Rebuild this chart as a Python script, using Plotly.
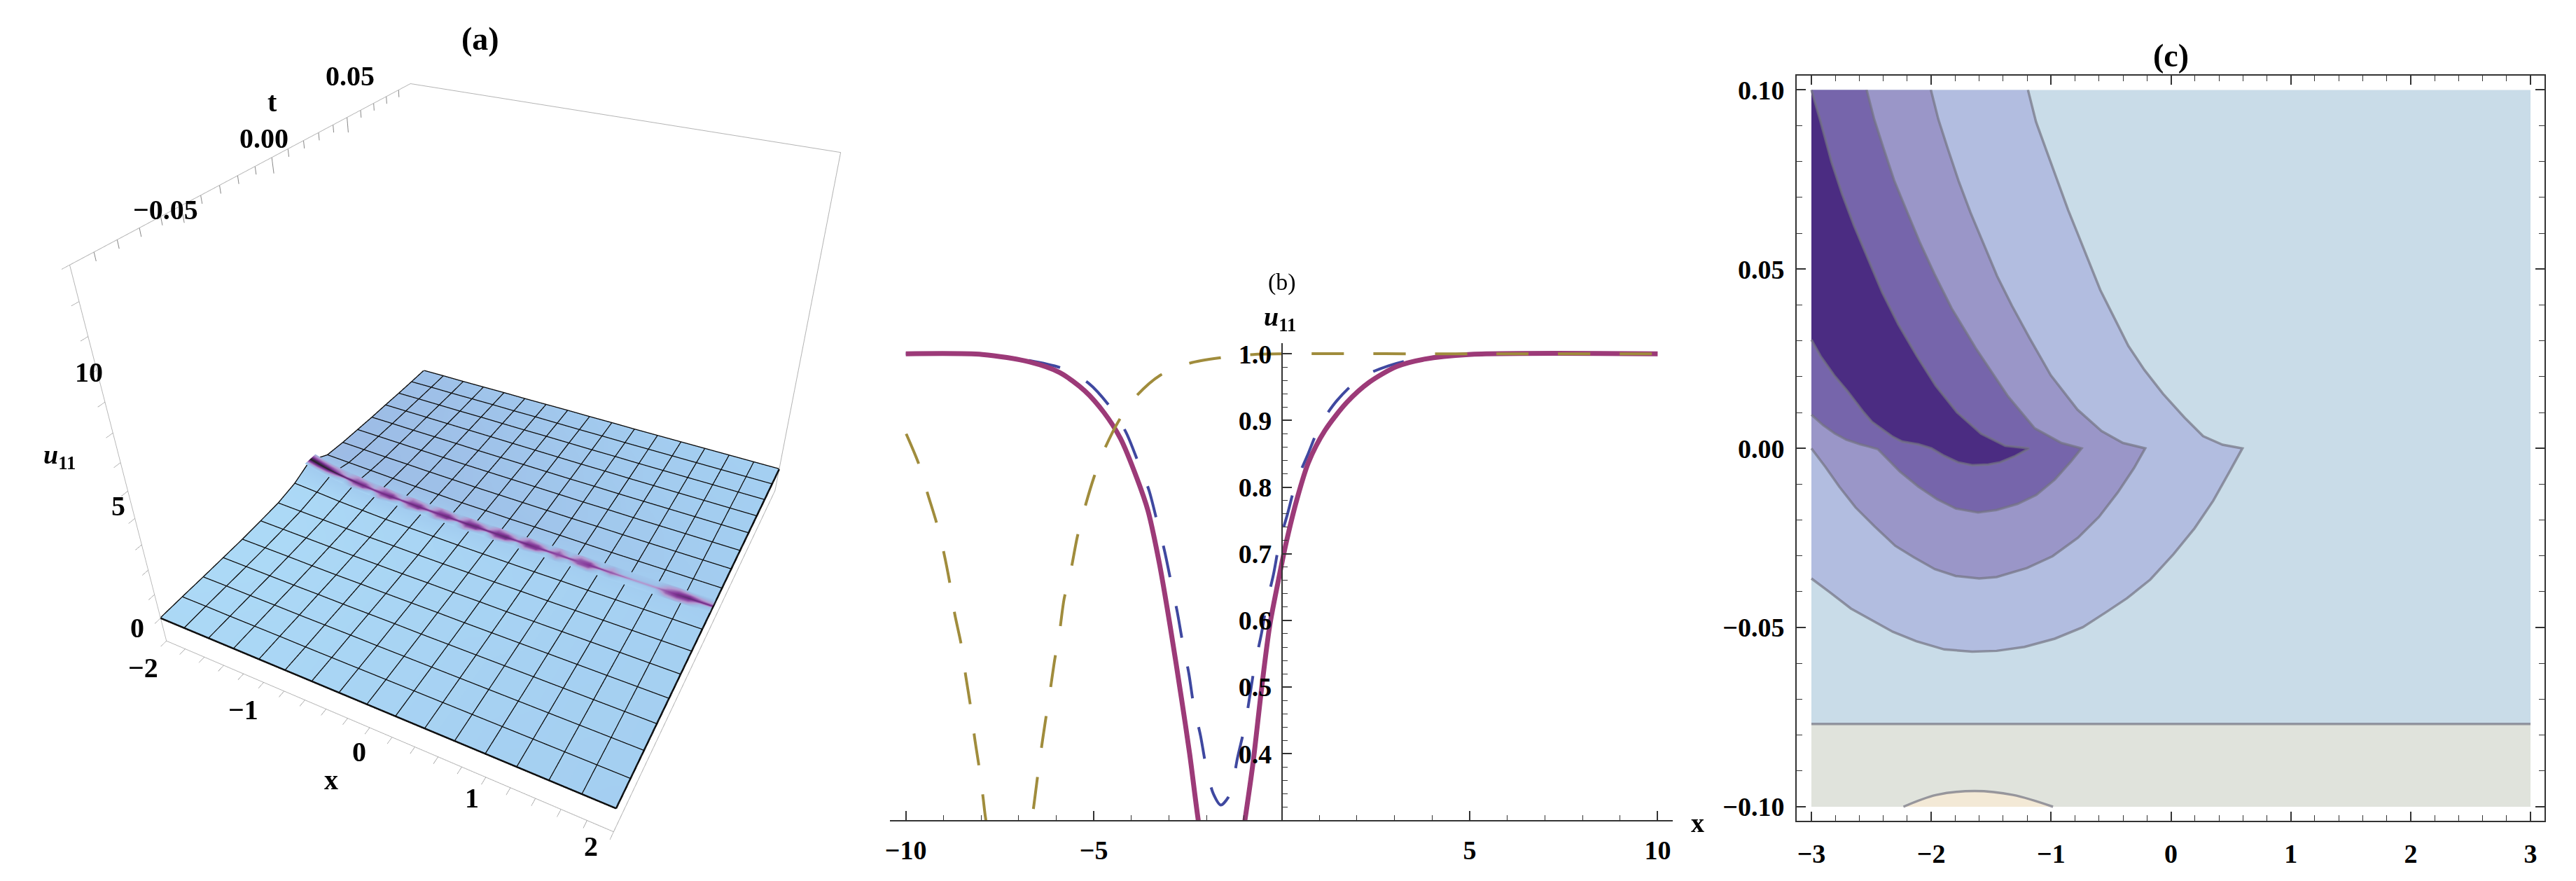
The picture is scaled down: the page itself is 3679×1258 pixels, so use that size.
import plotly.graph_objects as go

W, H = 3679, 1258
SERIF = "Liberation Serif"

# panel (a): surface u11(x, t), one row per mesh line
surf_x = [-2, -1.75, -1.5, -1.25, -1, -0.75, -0.5, -0.25, 0, 0.25, 0.5, 0.75, 1, 1.25, 1.5, 1.75, 2]
surf_t = [-0.1, -0.0875, -0.075, -0.0625, -0.05, -0.0375, -0.025, -0.0125, 0, 0.0125, 0.025, 0.0375, 0.05, 0.0625, 0.075, 0.0875, 0.1]
surf_u = [
    [1.00, 1.00, 1.00, 1.00, 1.00, 1.00, 1.00, 1.00, 1.00, 1.00, 1.00, 1.00, 1.00, 1.00, 1.00, 1.00, 1.00],
    [1.02, 1.02, 1.01, 1.01, 1.01, 1.00, 1.00, 1.00, 1.00, 1.00, 1.00, 1.00, 1.00, 1.00, 1.00, 1.00, 1.00],
    [1.03, 1.03, 1.02, 1.02, 1.01, 1.01, 1.01, 1.00, 1.00, 1.00, 1.00, 1.00, 1.00, 1.00, 1.00, 1.00, 1.00],
    [1.05, 1.04, 1.03, 1.02, 1.02, 1.01, 1.01, 1.01, 1.00, 1.00, 1.00, 1.00, 1.00, 1.00, 1.00, 1.00, 1.00],
    [1.07, 1.06, 1.05, 1.03, 1.02, 1.02, 1.01, 1.01, 1.01, 1.00, 1.00, 1.00, 1.00, 1.00, 1.00, 1.00, 1.00],
    [1.12, 1.10, 1.08, 1.06, 1.04, 1.03, 1.02, 1.02, 1.01, 1.01, 1.00, 1.00, 1.00, 1.00, 1.00, 1.00, 1.00],
    [1.18, 1.15, 1.12, 1.09, 1.06, 1.05, 1.03, 1.02, 1.02, 1.01, 1.01, 1.00, 1.00, 1.00, 1.00, 1.00, 1.00],
    [1.35, 1.28, 1.20, 1.15, 1.10, 1.08, 1.06, 1.04, 1.03, 1.02, 1.01, 1.01, 1.00, 1.00, 1.00, 1.00, 1.00],
    [1.70, 1.45, 1.30, 1.20, 1.15, 1.10, 1.08, 1.06, 1.04, 1.03, 1.02, 1.01, 1.01, 1.00, 1.00, 1.00, 1.00],
    [1.28, 1.24, 1.20, 1.16, 1.12, 1.09, 1.06, 1.05, 1.03, 1.03, 1.02, 1.01, 1.00, 1.00, 1.00, 1.00, 1.00],
    [1.20, 1.17, 1.14, 1.12, 1.09, 1.07, 1.05, 1.04, 1.03, 1.02, 1.01, 1.01, 1.00, 1.00, 1.00, 1.00, 1.00],
    [1.16, 1.14, 1.12, 1.10, 1.08, 1.06, 1.05, 1.04, 1.03, 1.02, 1.01, 1.01, 1.00, 1.00, 1.00, 1.00, 1.00],
    [1.12, 1.11, 1.09, 1.08, 1.07, 1.05, 1.04, 1.03, 1.02, 1.01, 1.01, 1.00, 1.00, 1.00, 1.00, 1.00, 1.00],
    [1.10, 1.09, 1.08, 1.07, 1.06, 1.05, 1.04, 1.03, 1.02, 1.01, 1.01, 1.00, 1.00, 1.00, 1.00, 1.00, 1.00],
    [1.07, 1.07, 1.06, 1.05, 1.05, 1.04, 1.03, 1.03, 1.02, 1.01, 1.01, 1.00, 1.00, 1.00, 1.00, 1.00, 1.00],
    [1.05, 1.05, 1.04, 1.04, 1.04, 1.03, 1.03, 1.02, 1.01, 1.01, 1.00, 1.00, 1.00, 1.00, 1.00, 1.00, 1.00],
    [1.04, 1.04, 1.03, 1.03, 1.03, 1.02, 1.02, 1.02, 1.01, 1.01, 1.00, 1.00, 1.00, 1.00, 1.00, 1.00, 1.00],
]
# colour level read from the shading of the surface
surf_shade = [
    [0.02, 0.02, 0.02, 0.03, 0.03, 0.04, 0.05, 0.06, 0.07, 0.08, 0.09, 0.10, 0.11, 0.12, 0.12, 0.13, 0.14],
    [0.01, 0.01, 0.02, 0.03, 0.03, 0.04, 0.05, 0.06, 0.07, 0.08, 0.09, 0.10, 0.11, 0.11, 0.12, 0.13, 0.13],
    [0.00, 0.01, 0.01, 0.02, 0.03, 0.04, 0.05, 0.06, 0.07, 0.08, 0.09, 0.10, 0.10, 0.11, 0.12, 0.12, 0.13],
    [0.00, 0.00, 0.01, 0.02, 0.03, 0.04, 0.05, 0.06, 0.07, 0.08, 0.09, 0.10, 0.10, 0.11, 0.12, 0.12, 0.13],
    [0.00, 0.00, 0.01, 0.02, 0.03, 0.04, 0.05, 0.06, 0.07, 0.08, 0.08, 0.09, 0.10, 0.11, 0.11, 0.12, 0.12],
    [0.00, 0.00, 0.01, 0.02, 0.03, 0.04, 0.05, 0.06, 0.07, 0.08, 0.08, 0.09, 0.10, 0.11, 0.11, 0.12, 0.12],
    [0.00, 0.01, 0.02, 0.03, 0.04, 0.05, 0.05, 0.06, 0.07, 0.08, 0.08, 0.09, 0.10, 0.10, 0.11, 0.11, 0.12],
    [0.02, 0.02, 0.03, 0.04, 0.05, 0.06, 0.06, 0.07, 0.08, 0.08, 0.09, 0.09, 0.10, 0.10, 0.11, 0.11, 0.12],
    [0.20, 0.20, 0.20, 0.20, 0.20, 0.20, 0.20, 0.18, 0.18, 0.18, 0.18, 0.16, 0.16, 0.16, 0.16, 0.15, 0.15],
    [0.36, 0.35, 0.34, 0.33, 0.32, 0.31, 0.30, 0.29, 0.28, 0.27, 0.25, 0.23, 0.21, 0.20, 0.18, 0.17, 0.16],
    [0.36, 0.35, 0.34, 0.33, 0.32, 0.31, 0.29, 0.28, 0.26, 0.25, 0.23, 0.21, 0.20, 0.19, 0.17, 0.16, 0.15],
    [0.35, 0.34, 0.33, 0.32, 0.31, 0.30, 0.28, 0.27, 0.25, 0.24, 0.22, 0.21, 0.19, 0.18, 0.17, 0.15, 0.14],
    [0.35, 0.34, 0.33, 0.31, 0.30, 0.29, 0.27, 0.26, 0.24, 0.23, 0.21, 0.20, 0.18, 0.17, 0.16, 0.15, 0.14],
    [0.34, 0.33, 0.32, 0.30, 0.29, 0.28, 0.26, 0.25, 0.23, 0.22, 0.20, 0.19, 0.17, 0.16, 0.15, 0.14, 0.13],
    [0.33, 0.32, 0.31, 0.29, 0.28, 0.27, 0.25, 0.23, 0.22, 0.21, 0.19, 0.18, 0.17, 0.16, 0.14, 0.14, 0.13],
    [0.32, 0.31, 0.30, 0.28, 0.27, 0.26, 0.24, 0.22, 0.21, 0.20, 0.18, 0.17, 0.16, 0.15, 0.14, 0.13, 0.13],
    [0.30, 0.29, 0.28, 0.26, 0.25, 0.24, 0.22, 0.21, 0.20, 0.19, 0.17, 0.16, 0.15, 0.14, 0.13, 0.13, 0.12],
]
# the jagged purple crease along t = 0, drawn as a narrow strip on the surface
crease_x = [-2.0, -1.9, -1.8, -1.7, -1.6, -1.5, -1.4, -1.3, -1.2, -1.1, -1.0, -0.9, -0.8, -0.7, -0.6, -0.5, -0.4, -0.3, -0.2, -0.1, 0.0,
            0.1, 0.2, 0.3, 0.4, 0.5, 0.6, 0.7, 0.8, 0.9, 1.0, 1.1, 1.2, 1.3, 1.4, 1.5, 1.6, 1.7, 1.8, 1.9, 2.0]
crease_t = [-0.004, -0.0012, 0, 0.0012, 0.004]
crease_u = [1.78, 1.66, 1.57, 1.50, 1.44, 1.39, 1.34, 1.30, 1.27, 1.25, 1.24, 1.22, 1.20, 1.19, 1.18, 1.17, 1.16, 1.15, 1.15, 1.14, 1.14,
            1.13, 1.13, 1.13, 1.12, 1.12, 1.12, 1.11, 1.11, 1.11, 1.11, 1.10, 1.10, 1.10, 1.10, 1.10, 1.10, 1.10, 1.10, 1.10, 1.10]
crease_low = [0.08, 0.06, 0.05, 0.05, 0.05, 0.30, 0.05, 0.05, 0.36, 0.06, 0.06, 0.34, 0.06, 0.06, 0.34, 0.07, 0.07, 0.38, 0.07, 0.07, 0.34,
              0.08, 0.08, 0.32, 0.08, 0.08, 0.30, 0.09, 0.09, 0.26, 0.09, 0.09, 0.10, 0.10, 0.10, 0.10, 0.28, 0.36, 0.30, 0.11, 0.11]
crease_in_low = [0.85, 0.80, 0.75, 0.60, 0.30, 0.68, 0.74, 0.30, 0.70, 0.76, 0.30, 0.68, 0.78, 0.30, 0.70, 0.78, 0.30, 0.76, 0.80, 0.30, 0.78,
                 0.80, 0.30, 0.76, 0.78, 0.30, 0.66, 0.30, 0.72, 0.74, 0.25, 0.50, 0.20, 0.20, 0.20, 0.25, 0.68, 0.80, 0.76, 0.40, 0.30]
crease_mid = [1.00, 1.00, 1.00, 0.98, 0.95, 0.92, 0.88, 0.88, 0.86, 0.88, 0.86, 0.88, 0.88, 0.88, 0.86, 0.88, 0.88, 0.90, 0.88, 0.90, 0.88,
              0.90, 0.86, 0.88, 0.84, 0.86, 0.78, 0.84, 0.74, 0.82, 0.84, 0.74, 0.70, 0.60, 0.58, 0.60, 0.74, 0.86, 0.90, 0.88, 0.88]
crease_in_high = [0.90, 0.90, 0.85, 0.70, 0.45, 0.70, 0.76, 0.45, 0.72, 0.78, 0.40, 0.72, 0.78, 0.42, 0.76, 0.80, 0.45, 0.78, 0.80, 0.50, 0.78,
                  0.80, 0.45, 0.76, 0.78, 0.40, 0.70, 0.40, 0.72, 0.76, 0.35, 0.55, 0.32, 0.30, 0.30, 0.30, 0.60, 0.78, 0.80, 0.60, 0.50]
crease_high = [0.36, 0.36, 0.35, 0.38, 0.34, 0.50, 0.34, 0.36, 0.54, 0.33, 0.32, 0.52, 0.33, 0.32, 0.52, 0.32, 0.31, 0.54, 0.30, 0.30, 0.52,
               0.28, 0.27, 0.50, 0.27, 0.26, 0.44, 0.25, 0.44, 0.25, 0.24, 0.36, 0.22, 0.22, 0.21, 0.20, 0.36, 0.40, 0.19, 0.18, 0.18]
t_ticks = [-0.09, -0.08, -0.07, -0.06, -0.05, -0.04, -0.03, -0.02, -0.01, 0, 0.01, 0.02, 0.03, 0.04, 0.05, 0.06, 0.07, 0.08, 0.09]

# panel (b): the three profiles; values below 0.30 run off the axis
gold_x = [-9.99, -9.65, -9.43, -9.17, -8.99, -8.82, -8.70, -8.52, -8.41, -8.27, -8.17, -8.04, -7.94, -7.88, -7.6, -7.25, -6.9,
          -6.64, -6.52, -6.42, -6.29, -6.17, -6.04, -5.91, -5.79, -5.61, -5.44, -5.25, -5.0, -4.73, -4.33, -3.88, -3.23, -2.45, -1.65, -0.76, 0, 5, 10]
gold_y = [0.88, 0.834, 0.792, 0.744, 0.702, 0.653, 0.61, 0.562, 0.518, 0.468, 0.424, 0.376, 0.332, 0.304, 0.22, 0.2, 0.22,
          0.304, 0.355, 0.398, 0.448, 0.491, 0.541, 0.583, 0.632, 0.675, 0.725, 0.767, 0.814, 0.855, 0.9, 0.936, 0.968, 0.986, 0.994, 0.999, 1, 1, 1]
blue_x = [-10, -7.96, -6.72, -5.83, -5.14, -4.56, -4.14, -3.81, -3.53, -3.31, -3.12, -2.94, -2.78, -2.63, -2.47, -2.34, -2.16, -2.01, -1.82, -1.62,
          -1.43, -1.32, -1.18, -0.98, -0.72, -0.54, -0.40, -0.22, -0.06, 0.15, 0.38, 0.68, 1.03, 1.47, 2.1, 2.84, 3.64, 5.26, 10]
blue_y = [1.0, 0.999, 0.99, 0.978, 0.956, 0.92, 0.882, 0.836, 0.795, 0.747, 0.705, 0.656, 0.613, 0.565, 0.52, 0.472, 0.427, 0.38, 0.34, 0.323,
          0.334, 0.35, 0.393, 0.442, 0.532, 0.58, 0.625, 0.669, 0.717, 0.759, 0.807, 0.847, 0.894, 0.93, 0.964, 0.982, 0.993, 0.999, 1]
magenta_x = [-10, -7.96, -6.72, -5.91, -5.25, -4.73, -4.29, -3.85, -3.56, -3.26, -2.97, -2.67, -2.45, -2.23, -2.0, -1.6, -1.2,
             -0.97, -0.76, -0.54, -0.32, -0.1, 0.12, 0.41, 0.71, 1.15, 1.73, 2.32, 3.06, 3.79, 4.97, 10]
magenta_y = [1, 0.999, 0.988, 0.972, 0.945, 0.912, 0.873, 0.813, 0.765, 0.687, 0.592, 0.484, 0.4, 0.304, 0.22, 0.18, 0.22,
             0.304, 0.388, 0.496, 0.592, 0.657, 0.717, 0.783, 0.837, 0.885, 0.927, 0.957, 0.981, 0.992, 0.999, 1]

# panel (c): contour boundaries, outermost first
band1_x = [-1.193, -1.126, -1.037, -0.948, -0.858, -0.769, -0.680, -0.590, -0.479, -0.356, -0.222, -0.066, 0.113, 0.268, 0.43, 0.596,
           0.489, 0.353, 0.197, 0.022, -0.172, -0.366, -0.541, -0.736, -0.969, -1.222, -1.455, -1.659, -1.892, -2.125, -2.32, -2.514, -2.67, -2.845, -3]
band1_t = [0.1, 0.0911, 0.0829, 0.0747, 0.0665, 0.0591, 0.0517, 0.0442, 0.0368, 0.0286, 0.0219, 0.0152, 0.0086, 0.0034, 0.001, 0,
           -0.0065, -0.0146, -0.0223, -0.0295, -0.0366, -0.0418, -0.0457, -0.0499, -0.0531, -0.0554, -0.0565, -0.0567, -0.0561, -0.0538, -0.0512, -0.0476, -0.0447, -0.0402, -0.0363]
band2_x = [-2.003, -1.941, -1.863, -1.773, -1.673, -1.561, -1.450, -1.327, -1.182, -1.003, -0.780, -0.579, -0.401, -0.215,
           -0.308, -0.444, -0.6, -0.775, -0.988, -1.202, -1.455, -1.6, -1.795, -1.97, -2.145, -2.3, -2.475, -2.631, -2.767, -2.883, -3]
band2_t = [0.1, 0.0918, 0.0837, 0.0747, 0.0658, 0.0569, 0.0480, 0.0398, 0.0309, 0.0204, 0.0108, 0.0048, 0.0015, 0,
           -0.0055, -0.0123, -0.0191, -0.0249, -0.0301, -0.0334, -0.0359, -0.0363, -0.0356, -0.0337, -0.0304, -0.0272, -0.0217, -0.0165, -0.0107, -0.0052, 0]
band3_x = [-2.539, -2.476, -2.398, -2.309, -2.208, -2.097, -1.974, -1.829, -1.628, -1.360, -1.137, -0.914, -0.746,
           -0.833, -0.969, -1.124, -1.28, -1.455, -1.61, -1.795, -1.95, -2.106, -2.261, -2.359, -2.446, -2.533, -2.592, -2.66, -2.708, -2.806, -2.903, -3]
band3_t = [0.1, 0.0918, 0.0837, 0.0747, 0.0665, 0.0576, 0.0487, 0.0390, 0.0279, 0.0145, 0.0056, 0.0015, 0,
           -0.0036, -0.0087, -0.013, -0.0155, -0.0172, -0.0179, -0.0168, -0.0142, -0.0107, -0.0065, -0.0032, -0.0002, 0.0006, 0.0011, 0.0019, 0.0024, 0.0042, 0.0065, 0.0094]
band4_x = [-3, -2.923, -2.833, -2.744, -2.644, -2.521, -2.409, -2.275, -2.119, -1.963, -1.784, -1.584, -1.383, -1.183,
           -1.309, -1.426, -1.523, -1.659, -1.776, -1.892, -1.999, -2.106, -2.242, -2.32, -2.417, -2.495, -2.563, -2.7, -2.811, -2.923, -3]
band4_t = [0.1, 0.0911, 0.08, 0.0710, 0.0621, 0.0524, 0.0435, 0.0346, 0.0257, 0.0175, 0.0100, 0.0041, 0.0007, 0,
           -0.0023, -0.0039, -0.0045, -0.0047, -0.0039, -0.0021, 0, 0.0011, 0.0019, 0.0032, 0.0055, 0.0074, 0.0100, 0.016, 0.0204, 0.0257, 0.0303]
band_colors = ["#b2bde0", "#9a96c8", "#7665ab", "#4b2c82"]
low_t = -0.0769
lens_x = [-2.232, -1.958, -1.638, -1.318, -0.984]
lens_t = [-0.1, -0.0967, -0.0956, -0.0967, -0.1]

# labels of panel (a), centres in page pixels
a_labels = [("0.05", 494, 103), ("0.00", 371, 193), ("\u22120.05", 230, 295), ("t", 383, 140),
            ("10", 120, 528), ("5", 162, 721), ("0", 189, 895),
            ("\u22122", 198, 953), ("\u22121", 341, 1013), ("0", 507, 1073), ("1", 668, 1140), ("2", 839, 1209), ("x", 467, 1114)]


def px(x, y, text, size=40, bold=True):
    return dict(x=x / W, y=1 - y / H, xref="paper", yref="paper", text=text, showarrow=False,
                xanchor="center", yanchor="middle",
                font=dict(family=SERIF, size=size, color="black", weight="bold" if bold else "normal"))


fig = go.Figure()

# (a)
shade_scale = [[0, "#acd9f6"], [0.15, "#a3cdf0"], [0.35, "#9dbde6"], [0.55, "#b49ad0"], [0.8, "#86389a"], [0.9, "#5a2a70"], [1, "#222222"]]
flat_light = dict(ambient=1, diffuse=0, specular=0, fresnel=0, roughness=1)
fig.add_surface(x=surf_x, y=surf_t, z=surf_u, surfacecolor=surf_shade, cmin=0, cmax=1, showscale=False, hoverinfo="skip",
                colorscale=shade_scale, lighting=flat_light)
fig.add_surface(x=crease_x, y=crease_t, z=[crease_u] * 5,
                surfacecolor=[crease_low, crease_in_low, crease_mid, crease_in_high, crease_high],
                cmin=0, cmax=1, showscale=False, hoverinfo="skip", colorscale=shade_scale, lighting=flat_light)

# black mesh, one line for each row and column of the table
mesh_line = dict(color="#0a0a0a", width=5)
for j, t in enumerate(surf_t):
    fig.add_scatter3d(x=surf_x, y=[t] * len(surf_x), z=surf_u[j], mode="lines", line=mesh_line, hoverinfo="skip")
for i, x in enumerate(surf_x):
    fig.add_scatter3d(x=[x] * len(surf_t), y=surf_t, z=[row[i] for row in surf_u], mode="lines", line=mesh_line, hoverinfo="skip")

# t ticks hang from the upper left edge of the box
tick_xs, tick_ts, tick_zs = [], [], []
for t in t_ticks:
    tick_xs += [-2, -2, None]
    tick_ts += [t, t, None]
    tick_zs += [13, 12.5 if t in (-0.05, 0, 0.05) else 12.75, None]
fig.add_scatter3d(x=tick_xs, y=tick_ts, z=tick_zs, mode="lines", line=dict(color="#888888", width=2), hoverinfo="skip")

axis3d = dict(showbackground=False, showgrid=False, zeroline=False, showline=True, mirror=True, linecolor="#b4b4b4", linewidth=2,
              ticklen=10, tickcolor="#777777", tickwidth=1, showticklabels=False, title=dict(text=""), showspikes=False)
fig.update_layout(scene=dict(
    domain=dict(x=[0, 1408 / W], y=[0, 1]),
    xaxis=dict(axis3d, range=[-2, 2], dtick=0.2, tick0=-2, ticks="outside"),
    yaxis=dict(axis3d, range=[-0.1, 0.1], ticks=""),
    zaxis=dict(axis3d, range=[0, 13], dtick=1, tick0=0, ticks="outside"),
    aspectmode="manual", aspectratio=dict(x=0.93, y=1, z=0.8),
    camera=dict(eye=dict(x=0.76, y=-1.50, z=1.105), up=dict(x=0, y=0, z=1), center=dict(x=0, y=0, z=-0.095)),
    bgcolor="rgba(0,0,0,0)",
))

# (b)
dash = "46px,42px"
fig.add_scatter(x=blue_x, y=blue_y, mode="lines", xaxis="x", yaxis="y", hoverinfo="skip",
                line=dict(color="#3f48a0", width=4, dash=dash, shape="spline", smoothing=0.8))
fig.add_scatter(x=magenta_x, y=magenta_y, mode="lines", xaxis="x", yaxis="y", hoverinfo="skip",
                line=dict(color="#9c3a78", width=7, shape="spline", smoothing=0.8))
fig.add_scatter(x=gold_x, y=gold_y, mode="lines", xaxis="x", yaxis="y", hoverinfo="skip",
                line=dict(color="#a08c3c", width=4, dash=dash, shape="spline", smoothing=0.8))

# (c)
edge_line = dict(color="rgba(115,115,130,0.7)", width=3.5)
band_x = [band1_x, band2_x, band3_x, band4_x]
band_t = [band1_t, band2_t, band3_t, band4_t]
fig.add_scatter(x=[-3, 3, 3, -3], y=[low_t, low_t, 0.1, 0.1], fill="toself", fillcolor="#c9dce8", mode="none",
                xaxis="x2", yaxis="y2", hoverinfo="skip")
fig.add_scatter(x=[-3, 3, 3, -3], y=[-0.1, -0.1, low_t, low_t], fill="toself", fillcolor="#e0e3dc", mode="none",
                xaxis="x2", yaxis="y2", hoverinfo="skip")
fig.add_scatter(x=lens_x, y=lens_t, fill="toself", fillcolor="#f3e9d6", mode="lines", line=dict(edge_line, shape="spline"),
                xaxis="x2", yaxis="y2", hoverinfo="skip")
for bx, bt, col in zip(band_x, band_t, band_colors):
    fig.add_scatter(x=bx + [-3], y=bt + [0.1], fill="toself", fillcolor=col, mode="none",
                    xaxis="x2", yaxis="y2", hoverinfo="skip")
for bx, bt in zip(band_x, band_t):
    fig.add_scatter(x=bx, y=bt, mode="lines", line=edge_line, xaxis="x2", yaxis="y2", hoverinfo="skip")
fig.add_scatter(x=[-3, 3], y=[low_t, low_t], mode="lines", line=edge_line, xaxis="x2", yaxis="y2", hoverinfo="skip")

tick_font = dict(family=SERIF, size=38, color="black", weight="bold")
fig.update_layout(
    width=W, height=H, margin=dict(l=0, r=0, t=0, b=0), autosize=False, showlegend=False,
    paper_bgcolor="white", plot_bgcolor="rgba(0,0,0,0)",
    xaxis=dict(domain=[1266 / W, 2387 / W], range=[-10.43, 10.41], anchor="y", tickvals=[-10, -5, 5, 10],
               ticks="inside", ticklen=14, tickwidth=1.5, tickcolor="#333333", tickfont=tick_font, showgrid=False, zeroline=False,
               showline=True, linecolor="#333333", linewidth=1.5, ticklabelstandoff=8,
               minor=dict(dtick=1, tick0=0, ticks="inside", ticklen=8, tickwidth=1, tickcolor="#333333", showgrid=False)),
    yaxis=dict(domain=[1 - 1172 / H, 1 - 487 / H], range=[0.30, 1.0157], anchor="free", position=1827 / W,
               tickvals=[0.4, 0.5, 0.6, 0.7, 0.8, 0.9, 1.0], ticktext=["0.4", "0.5", "0.6", "0.7", "0.8", "0.9", "1.0"],
               ticks="inside", ticklen=14, tickwidth=1.5, tickcolor="#333333", tickfont=tick_font, showgrid=False, zeroline=False,
               showline=True, linecolor="#333333", linewidth=1.5, ticklabelstandoff=6,
               minor=dict(dtick=0.02, tick0=0, ticks="inside", ticklen=8, tickwidth=1, tickcolor="#333333", showgrid=False)),
    xaxis2=dict(domain=[2564 / W, 3634 / W], range=[-3.122, 3.117], anchor="y2", dtick=1, tick0=0, tickformat="d",
                ticks="inside", ticklen=13, tickwidth=1.5, tickcolor="#333333", tickfont=tick_font, showgrid=False, zeroline=False,
                showline=True, mirror="allticks", linecolor="#333333", linewidth=2, ticklabelstandoff=12,
                minor=dict(dtick=0.2, tick0=0, ticks="inside", ticklen=8, tickwidth=1, tickcolor="#333333", showgrid=False)),
    yaxis2=dict(domain=[1 - 1172.5 / H, 1 - 103 / H], range=[-0.1039, 0.1039], anchor="x2", dtick=0.05, tick0=0, tickformat=".2f",
                ticks="inside", ticklen=13, tickwidth=1.5, tickcolor="#333333", tickfont=tick_font, showgrid=False, zeroline=False,
                showline=True, mirror="allticks", linecolor="#333333", linewidth=2, ticklabelstandoff=8,
                minor=dict(dtick=0.01, tick0=0, ticks="inside", ticklen=8, tickwidth=1, tickcolor="#333333", showgrid=False)),
)

notes = [px(x, y, t) for t, x, y in a_labels]
notes += [px(680, 50, "(a)", 46), px(1827, 399, "(b)", 34, bold=False), px(3099, 74, "(c)", 46),
          px(78, 650, "<i>u</i><sub>11</sub>", 38), px(1824, 452, "<i>u</i><sub>11</sub>", 38), px(2422, 1176, "x", 38)]
fig.update_layout(annotations=notes)

# the page body has a default margin that would push the figure off its place
fig.write_html("out.html", config=dict(displayModeBar=False), post_script="document.body.style.margin='0';")
